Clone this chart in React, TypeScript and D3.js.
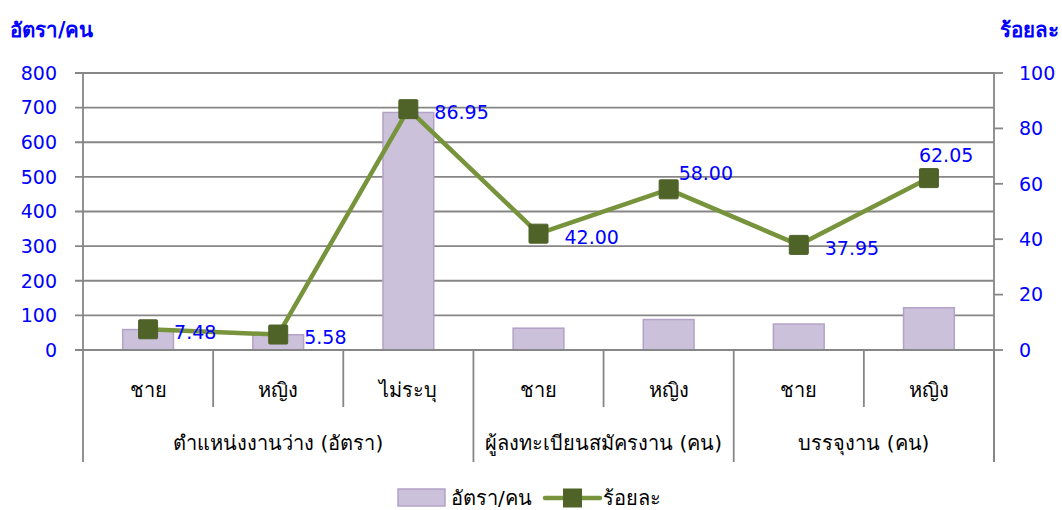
import React from "react";
import * as d3 from "d3";

const subCategories = ["ชาย", "หญิง", "ไม่ระบุ", "ชาย", "หญิง", "ชาย", "หญิง"];
const groups = ["ตำแหน่งงานว่าง (อัตรา)", "ผู้ลงทะเบียนสมัครงาน (คน)", "บรรจุงาน (คน)"];
const groupSizes = [3, 2, 2];
const rateValues = [59, 44, 686, 63, 88, 75, 122];
const percentValues = [7.48, 5.58, 86.95, 42.0, 58.0, 37.95, 62.05];
const percentLabels = ["7.48", "5.58", "86.95", "42.00", "58.00", "37.95", "62.05"];
const labelPlacement = ["right", "right", "right", "right", "upright", "right", "upleft"];
const leftTicks = [0, 100, 200, 300, 400, 500, 600, 700, 800];
const rightTicks = [0, 20, 40, 60, 80, 100];
const seriesNames = ["อัตรา/คน", "ร้อยละ"];

const W = 1062, H = 510;
const left = 83, right = 994, top = 73, bottom = 350;
const NUMFONT = "'DejaVu Sans', Tahoma, sans-serif";
const THAIFONT = "Tahoma, 'DejaVu Sans', 'Noto Sans', sans-serif";
const BLUE = "#0000FF";
const GRID = "#868686";
const BAR_FILL = "#CCC1DA";
const BAR_STROKE = "#B3A2C7";
const LINE = "#77933C";
const MARK = "#4F6228";

const placementOffset: Record<string, { dx: number; dy: number; anchor: string }> = {
  right: { dx: 26, dy: 3, anchor: "start" },
  upright: { dx: 10, dy: -16, anchor: "start" },
  upleft: { dx: -10, dy: -23, anchor: "start" },
};

export default function App() {
  const x = d3.scaleBand<number>().domain(d3.range(subCategories.length)).range([left, right]).paddingInner(0).paddingOuter(0);
  const yL = d3.scaleLinear().domain([0, 800]).range([bottom, top]);
  const yR = d3.scaleLinear().domain([0, 100]).range([bottom, top]);
  const bw = x.bandwidth();
  const barW = bw * 0.39;
  const cx = (i: number) => (x(i) as number) + bw / 2;
  const line = d3.line<number>().x((_, i) => cx(i)).y((d) => yR(d));
  const ms = 19;

  let acc = 0;
  const groupBounds = groupSizes.map((s) => {
    const start = acc;
    acc += s;
    return [start, acc];
  });

  return (
    <svg width={W} height={H} style={{ position: "absolute", left: 0, top: 0, background: "#fff" }}>
      {leftTicks.map((t) => (
        <g key={"g" + t}>
          <line x1={left - 8} x2={right} y1={yL(t)} y2={yL(t)} stroke={GRID} strokeWidth={1.8} />
          <text x={57} y={yL(t)} dy="0.36em" textAnchor="end" fontSize={19} fill={BLUE} fontFamily={NUMFONT}>{t}</text>
        </g>
      ))}
      <line x1={left} x2={left} y1={top} y2={bottom} stroke={GRID} strokeWidth={1.8} />
      <line x1={right} x2={right} y1={top} y2={bottom + 112} stroke={GRID} strokeWidth={1.8} />
      {rightTicks.map((t) => (
        <g key={"r" + t}>
          <line x1={right} x2={right + 9} y1={yR(t)} y2={yR(t)} stroke={GRID} strokeWidth={1.8} />
          <text x={1019} y={yR(t)} dy="0.36em" textAnchor="start" fontSize={19} fill={BLUE} fontFamily={NUMFONT}>{t}</text>
        </g>
      ))}
      <text x={10} y={37} fontSize={20.5} fill={BLUE} fontWeight="bold" fontFamily={THAIFONT}>{seriesNames[0]}</text>
      <text x={1059} y={37} fontSize={20.5} fill={BLUE} fontWeight="bold" textAnchor="end" fontFamily={THAIFONT}>{seriesNames[1]}</text>

      {d3.range(subCategories.length + 1).map((i) => {
        const xx = i < subCategories.length ? (x(i) as number) : right;
        const isGroup = groupBounds.some((b) => b[0] === i || b[1] === i);
        return (
          <line key={"s" + i} x1={xx} x2={xx} y1={bottom} y2={isGroup ? bottom + 112 : bottom + 57} stroke={GRID} strokeWidth={1.8} />
        );
      })}
      {subCategories.map((c, i) => (
        <text key={"c" + i} x={cx(i)} y={390} dy="0.35em" textAnchor="middle" fontSize={20} fill="#000" fontFamily={THAIFONT}>{c}</text>
      ))}
      {groups.map((g, gi) => {
        const [s, e] = groupBounds[gi];
        const mid = ((x(s) as number) + (e < subCategories.length ? (x(e) as number) : right)) / 2;
        return (
          <text key={"gr" + gi} x={mid} y={443} dy="0.35em" textAnchor="middle" fontSize={20} fill="#000" fontFamily={THAIFONT}>{g}</text>
        );
      })}

      {rateValues.map((v, i) => (
        <rect key={"b" + i} x={cx(i) - barW / 2} y={yL(v)} width={barW} height={bottom - yL(v)} fill={BAR_FILL} stroke={BAR_STROKE} strokeWidth={1.5} />
      ))}
      <line x1={left - 8} x2={right} y1={bottom} y2={bottom} stroke={GRID} strokeWidth={1.8} />

      <path d={line(percentValues) || ""} fill="none" stroke={LINE} strokeWidth={4.5} strokeLinejoin="round" />
      {percentValues.map((v, i) => (
        <rect key={"m" + i} x={cx(i) - ms / 2} y={yR(v) - ms / 2} width={ms} height={ms} fill={MARK} stroke={MARK} strokeWidth={1} rx={1} />
      ))}
      {percentValues.map((v, i) => {
        const p = placementOffset[labelPlacement[i]];
        return (
          <text key={"l" + i} x={cx(i) + p.dx} y={yR(v) + p.dy} dy="0.36em" textAnchor={p.anchor} fontSize={19} fill={BLUE} fontFamily={NUMFONT}>
            {percentLabels[i]}
          </text>
        );
      })}

      <rect x={398} y={489} width={47} height={17} fill={BAR_FILL} stroke={BAR_STROKE} strokeWidth={1.5} />
      <text x={451} y={498} dy="0.35em" fontSize={20} fill="#000" fontFamily={THAIFONT}>{seriesNames[0]}</text>
      <line x1={545} x2={600} y1={498} y2={498} stroke={LINE} strokeWidth={4.5} strokeLinecap="round" />
      <rect x={563} y={488.5} width={19} height={19} fill={MARK} />
      <text x={603} y={498} dy="0.35em" fontSize={20} fill="#000" fontFamily={THAIFONT}>{seriesNames[1]}</text>
    </svg>
  );
}
